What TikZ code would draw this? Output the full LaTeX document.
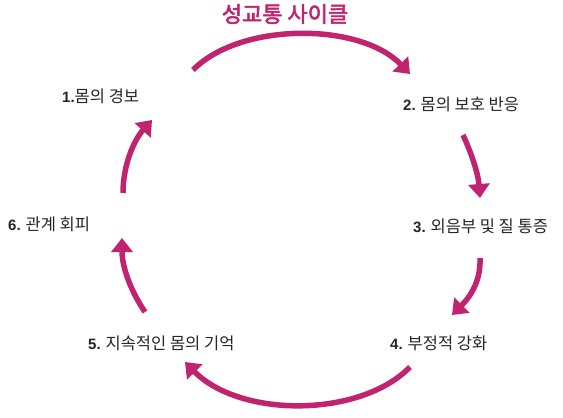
\documentclass[tikz,border=0pt]{standalone}
\usepackage{fontspec}
\setmainfont{Noto Sans CJK KR}
\newfontfamily\numf{Liberation Sans}
\newfontfamily\titlef[FakeBold=2.5]{Noto Sans CJK KR}
\usetikzlibrary{arrows.meta}
\definecolor{mag}{RGB}{193,36,111}
\tikzset{
  lbl/.style={anchor=west,inner sep=0pt,font=\fontsize{16.5}{18}\selectfont,text=black!85},
  ttl/.style={inner sep=0pt,font=\titlef\fontsize{22}{24}\selectfont,text=mag},
  cyc/.style={draw=mag,line width=5.5pt,-{Triangle[length=14pt,width=21pt]}},
}
\newcommand\nm[1]{{\numf\bfseries\fontsize{15}{18}\selectfont #1}}
\begin{document}
\begin{tikzpicture}[x=1pt,y=-1pt]
\useasboundingbox[fill=white] (0,0) rectangle (563,418);
\node[ttl] (t) at (285,14) {성교통 사이클};
\node[lbl] (l1) at (62,96) {\nm{1.}몸의 경보};
\node[lbl] (l2) at (403,104) {\nm{2.} 몸의 보호 반응};
\node[lbl] (l3) at (413,226) {\nm{3.} 외음부 및 질 통증};
\node[lbl] (l4) at (390,343) {\nm{4.} 부정적 강화};
\node[lbl] (l5) at (88,343) {\nm{5.} 지속적인 몸의 기억};
\node[lbl] (l6) at (8,224) {\nm{6.} 관계 회피};
\coordinate (a1s) at (193,70);  \coordinate (a1e) at (410,74);
\coordinate (a2s) at (463,135); \coordinate (a2e) at (480,198);
\coordinate (a3s) at (480,258); \coordinate (a3e) at (452,315);
\coordinate (a4s) at (410,367); \coordinate (a4e) at (185,362);
\coordinate (a5s) at (145,312); \coordinate (a5e) at (122,238);
\coordinate (a6s) at (123,193); \coordinate (a6e) at (152,120);
\draw[cyc] (a1s) .. controls (240,22) and (360,22) .. (a1e);
\draw[cyc] (a2s) .. controls (470,150) and (478,172) .. (a2e);
\draw[cyc] (a3s) .. controls (481,280) and (471,296) .. (a3e);
\draw[cyc] (a4s) .. controls (360,418) and (240,418) .. (a4e);
\draw[cyc] (a5s) .. controls (130,290) and (122,266) .. (a5e);
\draw[cyc] (a6s) .. controls (123,165) and (134,140) .. (a6e);
\end{tikzpicture}
\end{document}
